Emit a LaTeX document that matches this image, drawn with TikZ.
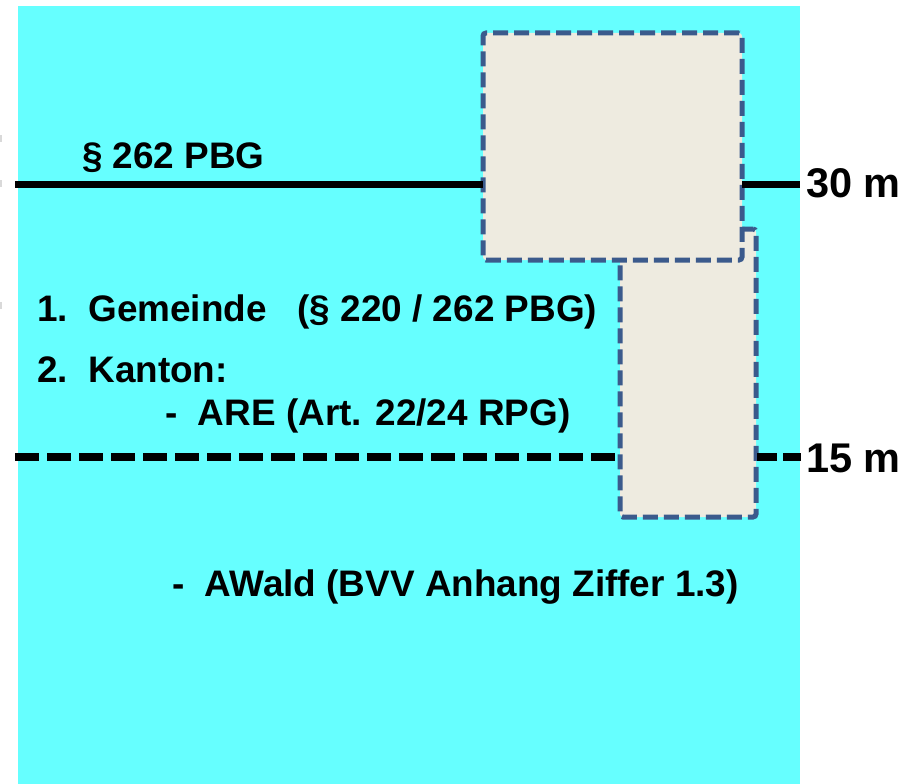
\documentclass[tikz,border=0pt]{standalone}
\usepackage{fontspec}
\setmainfont{Liberation Sans}
\definecolor{bgcyan}{RGB}{102,255,255}
\definecolor{boxfill}{RGB}{238,235,224}
\definecolor{boxline}{RGB}{59,90,140}
\begin{document}
\begin{tikzpicture}[x=1pt,y=-1pt,
  plot/.style={draw=boxline,fill=boxfill,line width=5pt,dash pattern=on 15pt off 6pt,rounded corners=3pt,inner sep=0pt,outer sep=0pt,anchor=north west},
  mainline/.style={line width=7pt,black},
  dashline/.style={line width=8pt,black,dash pattern=on 24pt off 8pt},
  txt/.style={anchor=base west,inner sep=0pt,font=\bfseries\fontsize{36.9}{40}\selectfont},
  lbl/.style={anchor=base west,inner sep=0pt,font=\bfseries\fontsize{41.5}{44}\selectfont}]
\useasboundingbox (0,0) rectangle (916,784);
\fill[bgcyan] (18,6) rectangle (800,784);
\fill[gray!30] (0,135) rectangle (2,142);
\fill[gray!30] (0,180) rectangle (2,187);
\fill[gray!30] (0,302) rectangle (2,309);
% plots
\node[plot,minimum width=136pt,minimum height=288pt] (b2) at (620,229) {};
\node[plot,minimum width=259pt,minimum height=227pt] (b1) at (483,33) {};
% lines
\coordinate (s0) at (15,184);
\coordinate (s1) at (800,184);
\draw[mainline] (s0) -- (s0 -| b1.west);
\draw[mainline] (s1 -| b1.east) -- (s1);
\coordinate (d0) at (15,457);
\coordinate (d1) at (801,457);
\draw[dashline] (d0) -- (d0 -| b2.west);
\draw[dashline,dash pattern=on 20pt off 6pt] (d1 -| b2.east) ++(1,0) -- (d1);
% texts
\node[txt] (t0) at (82,168) {§ 262 PBG};
\node[txt] (t1) at (37,321) {1.\ \ Gemeinde\ \ \ (§ 220 / 262 PBG)};
\node[txt] (t2) at (37,382) {2.\ \ Kanton:};
\node[txt] (t3) at (165,425) {-\ \ ARE (Art. 22/24 RPG)};
\node[txt] (t4) at (172,596) {-\ \ AWald (BVV Anhang Ziffer 1.3)};
\node[lbl] (l30) at (806,197) {30 m};
\node[lbl] (l15) at (806,472) {15 m};
\end{tikzpicture}
\end{document}
